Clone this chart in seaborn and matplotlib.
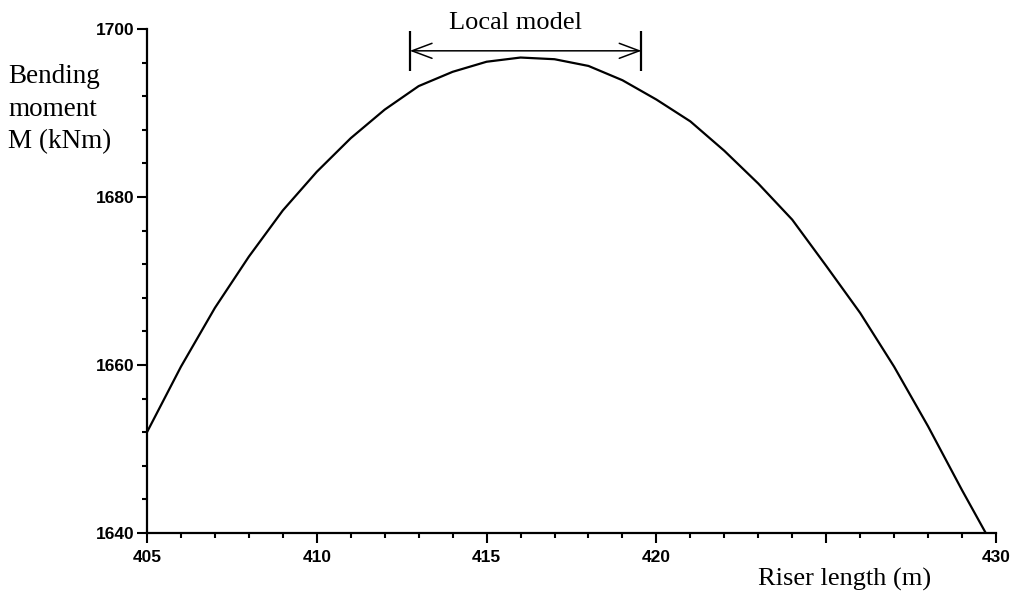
import numpy as np
import pandas as pd
import matplotlib
matplotlib.use("Agg")
import matplotlib.pyplot as plt
import seaborn as sns

# Bending moment along the riser, sampled every metre
riser_length = [405, 406, 407, 408, 409, 410, 411, 412, 413, 414, 415, 416, 417,
                418, 419, 420, 421, 422, 423, 424, 425, 426, 427, 428, 429, 430]
bending_moment = [1652.0, 1659.8, 1666.8, 1672.9, 1678.4, 1683.0, 1687.0, 1690.4,
                  1693.2, 1694.9, 1696.1, 1696.6, 1696.4, 1695.6, 1693.9, 1691.6,
                  1689.0, 1685.5, 1681.6, 1677.3, 1671.8, 1666.2, 1659.8, 1652.7,
                  1645.1, 1637.8]

x_ticks = [405, 410, 415, 420, 425, 430]
x_tick_labels = ["405", "410", "415", "420", "", "430"]
y_ticks = [1640, 1660, 1680, 1700]
y_tick_labels = ["1640", "1660", "1680", "1700"]

# Extent of the local model along the riser
local_model_start = 412.74
local_model_end = 419.56

df = pd.DataFrame({"length": riser_length, "moment": bending_moment})

sns.set_theme(style="white")
plt.rcParams["font.family"] = ["Liberation Sans", "DejaVu Sans"]

fig = plt.figure(figsize=(10.13, 5.95), dpi=100)
ax = fig.add_axes([0.1451, 0.1042, 0.9832 - 0.1451, 0.9513 - 0.1042])

sns.lineplot(data=df, x="length", y="moment", ax=ax, color="black", lw=1.6)

ax.set_xlim(405, 430)
ax.set_ylim(1640, 1700)

for side in ("top", "right"):
    ax.spines[side].set_visible(False)
for side in ("left", "bottom"):
    ax.spines[side].set_color("black")
    ax.spines[side].set_linewidth(1.6)

ax.set_xticks(x_ticks)
ax.set_xticklabels(x_tick_labels)
ax.set_yticks(y_ticks)
ax.set_yticklabels(y_tick_labels)
ax.set_xticks(np.arange(405, 431, 1), minor=True)
ax.set_yticks(np.arange(1640, 1701, 4), minor=True)
ax.tick_params(which="major", direction="out", length=7, width=1.5, color="black",
               labelsize=12.5, labelcolor="black", bottom=True, left=True)
ax.tick_params(axis="x", which="major", pad=5)
ax.tick_params(axis="y", which="major", pad=2)
ax.tick_params(which="minor", direction="out", length=3.5, width=1.5, color="black",
               bottom=True, left=True)
for lbl in ax.get_xticklabels() + ax.get_yticklabels():
    lbl.set_fontweight("bold")

ax.set_xlabel("")
ax.set_ylabel("")

serif = ["Liberation Serif", "DejaVu Serif"]
fig.text(845 / 1013, 1 - 579 / 595, "Riser length (m)", family=serif, fontsize=19,
         ha="center", va="center", color="black")
fig.text(8 / 1013, 1 - 64 / 595, "Bending\nmoment\nM (kNm)", family=serif, fontsize=19.5,
         ha="left", va="top", linespacing=1.4, color="black")

# Local model span marker
ax.annotate("", xy=(local_model_start, 1697.4), xytext=(local_model_end, 1697.4),
            arrowprops=dict(arrowstyle="<->,head_length=0.72,head_width=0.27",
                            color="black", lw=1.1, mutation_scale=20,
                            shrinkA=0, shrinkB=0),
            annotation_clip=False)
ax.vlines([local_model_start, local_model_end], 1695.0, 1699.7, colors="black",
          lw=1.6, clip_on=False)
ax.text((local_model_start + local_model_end) / 2 - 0.3, 1700.7, "Local model",
        family=serif, fontsize=19, ha="center", va="center", color="black",
        clip_on=False)

fig.savefig("out.png", dpi=100, facecolor="white")
